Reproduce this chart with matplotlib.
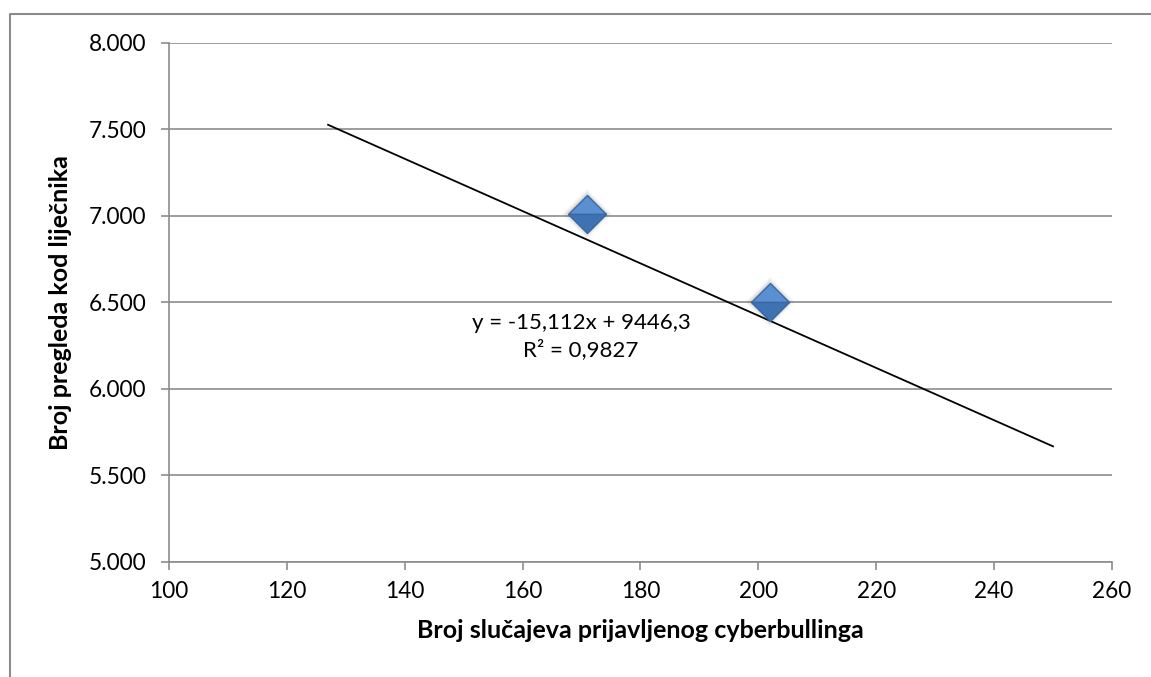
import matplotlib.pyplot as plt
from matplotlib.lines import Line2D

# data
cases = [171, 202]
visits = [7010, 6500]
trend_x = [127, 250]
slope, intercept = -15.112, 9446.3
eq_text = "y = -15,112x + 9446,3\nR² = 0,9827"

x_ticks = [100, 120, 140, 160, 180, 200, 220, 240, 260]
y_ticks = [5000, 5500, 6000, 6500, 7000, 7500, 8000]
y_tick_labels = ["5.000", "5.500", "6.000", "6.500", "7.000", "7.500", "8.000"]

plt.rcParams["font.family"] = ["Lato", "DejaVu Sans"]
grey = "#8c8c8c"

fig = plt.figure(figsize=(11.51, 6.77), dpi=100)
ax = fig.add_axes([0.1468, 0.1699, 0.8193, 0.7666])

ax.set_xlim(100, 260)
ax.set_ylim(5000, 8000)
ax.set_xticks(x_ticks)
ax.set_yticks(y_ticks)
ax.set_yticklabels(y_tick_labels)
ax.grid(axis="y", color=grey, linewidth=1.2)
ax.set_axisbelow(True)

for side in ["top", "right"]:
    ax.spines[side].set_visible(False)
for side in ["left", "bottom"]:
    ax.spines[side].set_color(grey)
    ax.spines[side].set_linewidth(1.2)
ax.tick_params(colors=grey, width=1.2, length=6, labelcolor="black", labelsize=16.3)
ax.tick_params(axis="x", pad=8)
ax.tick_params(axis="y", pad=10)

# trendline
trend_y = [slope * v + intercept for v in trend_x]
ax.plot(trend_x, trend_y, color="black", linewidth=1.3, zorder=3)

# diamond markers with a soft shadow
for k, a in [(25, 0.05), (23, 0.08), (21.5, 0.12)]:
    ax.plot(cases, visits, "D", markersize=k, color="#555555", alpha=a,
            markeredgewidth=0, zorder=4)
ax.plot(cases, visits, "D", markersize=19.5, fillstyle="top",
        markerfacecolor="#5a8fd2", markerfacecoloralt="#3f72b3",
        markeredgecolor="#3a68a2", markeredgewidth=1, zorder=5)

ax.text(0.437, 0.435, eq_text, transform=ax.transAxes, ha="center",
        va="center", fontsize=16, linespacing=1.35)

ax.set_xlabel("Broj slučajeva prijavljenog cyberbullinga", fontsize=18,
              fontweight="bold", labelpad=12)
ax.set_ylabel("Broj pregleda kod liječnika", fontsize=18, fontweight="bold",
              labelpad=12)

# outer chart border (only left and top visible in the crop)
fig.add_artist(Line2D([0.0087, 0.0087, 1.0], [0.0, 0.9793, 0.9793],
                      color=grey, linewidth=1.5, transform=fig.transFigure))

fig.savefig("out.png", dpi=100)
